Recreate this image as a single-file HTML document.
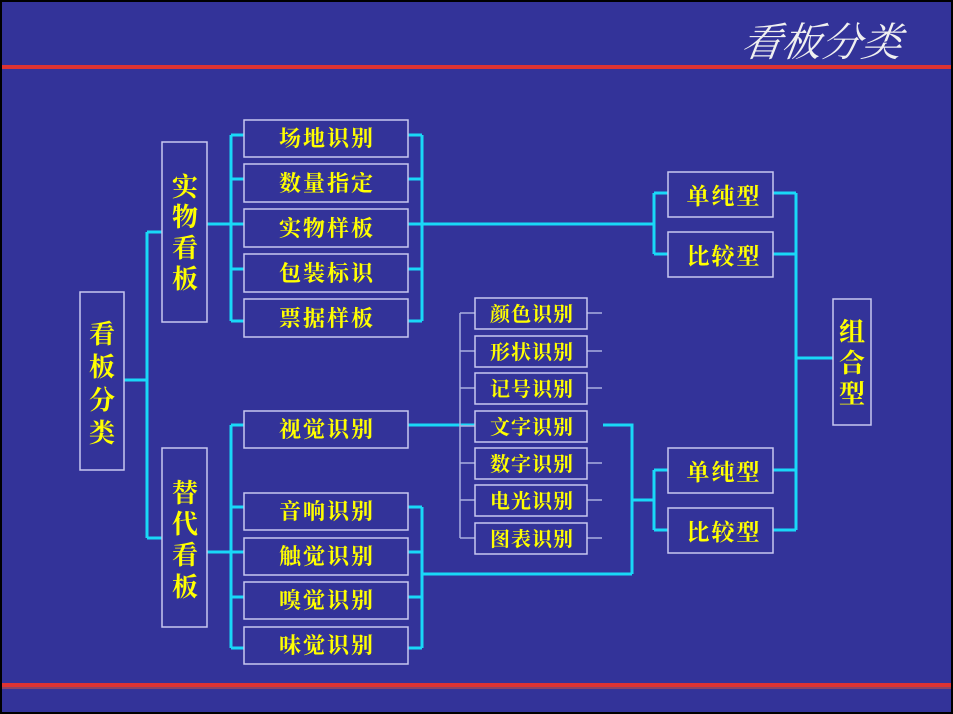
<!DOCTYPE html>
<html><head><meta charset="utf-8"><style>
html,body{margin:0;padding:0;background:#000;}
svg{display:block}
</style></head><body>
<svg width="953" height="714" viewBox="0 0 953 714" xmlns="http://www.w3.org/2000/svg">
<rect x="0" y="0" width="953" height="714" fill="#000"/>
<rect x="2" y="2" width="949" height="710" fill="#333399"/>
<text x="900" y="56" text-anchor="end" font-family="Liberation Serif, 'Noto Serif CJK SC', serif" font-size="40" font-style="italic" fill="#f0f0f0" transform="skewX(-8)" style="transform-origin:900px 56px">看板分类</text>
<rect x="2" y="65" width="949" height="4" fill="#dd3333"/>
<rect x="2" y="683" width="949" height="4" fill="#dd3333"/>
<rect x="2" y="687" width="949" height="2" fill="#884466"/>

<g stroke="#19d8f8" stroke-width="3" fill="none">
<path d="M124 380 H147 M147 232 V538 M147 232 H162 M147 538 H162"/>
<path d="M207 224 H231 M231 135 V321 M231 135 H244 M231 179 H244 M231 224 H244 M231 269 H244 M231 321 H244"/>
<path d="M408 135 H422 M408 179 H422 M408 224 H422 M408 269 H422 M408 321 H422 M422 135 V321 M422 224 H654"/>
<path d="M654 193 V254 M654 193 H669 M654 254 H669"/>
<path d="M207 552 H231 M231 425 V648 M231 425 H244 M231 507 H244 M231 552 H244 M231 597 H244 M231 648 H244"/>
<path d="M408 425 H475"/>
<path d="M408 507 H422 M408 552 H422 M408 597 H422 M408 648 H422 M422 507 V648 M422 574 H632"/>
<path d="M603 425 H632 V574 M632 500 H654 M654 470 V530 M654 470 H669 M654 530 H669"/>
<path d="M773 193 H796 M773 254 H796 M773 470 H796 M773 530 H796 M796 193 V530 M796 358 H833"/>
</g>
<g stroke="#aab0e0" stroke-width="1.5" fill="none">
<path d="M460 313 V538 M460 313 H475 M460 351 H475 M460 388 H475 M460 426 H475 M460 463 H475 M460 500 H475 M460 538 H475"/>
<path d="M587 313 H602 M587 351 H602 M587 388 H602 M587 463 H602 M587 500 H602 M587 538 H602"/>
</g>

<g stroke="#c8c8f0" stroke-width="1.5" fill="#333399">
<rect x="80" y="292" width="44" height="178"/>
<rect x="162" y="142" width="45" height="180"/>
<rect x="162" y="448" width="45" height="179"/>
<rect x="244" y="120" width="164" height="37"/>
<rect x="244" y="164" width="164" height="38"/>
<rect x="244" y="209" width="164" height="38"/>
<rect x="244" y="254" width="164" height="38"/>
<rect x="244" y="299" width="164" height="38"/>
<rect x="244" y="411" width="164" height="37"/>
<rect x="244" y="493" width="164" height="37"/>
<rect x="244" y="538" width="164" height="37"/>
<rect x="244" y="582" width="164" height="37"/>
<rect x="244" y="627" width="164" height="37"/>
<rect x="475" y="298" width="112" height="31"/>
<rect x="475" y="336" width="112" height="31"/>
<rect x="475" y="373" width="112" height="31"/>
<rect x="475" y="411" width="112" height="31"/>
<rect x="475" y="448" width="112" height="31"/>
<rect x="475" y="485" width="112" height="31"/>
<rect x="475" y="523" width="112" height="31"/>
<rect x="668" y="172" width="105" height="45"/>
<rect x="668" y="232" width="105" height="45"/>
<rect x="668" y="448" width="105" height="45"/>
<rect x="668" y="508" width="105" height="45"/>
<rect x="833" y="299" width="38" height="126"/>
</g>

<g font-family="Liberation Serif, 'Noto Serif CJK SC', serif" font-weight="bold" fill="#ffff00" text-anchor="middle">
<g font-size="26">
<text x="102" y="343">看</text><text x="102" y="376">板</text><text x="102" y="409">分</text><text x="102" y="442">类</text>
<text x="185" y="196">实</text><text x="185" y="226">物</text><text x="185" y="257">看</text><text x="185" y="288">板</text>
<text x="185" y="502">替</text><text x="185" y="533">代</text><text x="185" y="564">看</text><text x="185" y="596">板</text>
<text x="852" y="341">组</text><text x="852" y="372">合</text><text x="852" y="403">型</text>
</g>
<g font-size="22" letter-spacing="2">
<text x="327" y="146">场地识别</text>
<text x="327" y="191">数量指定</text>
<text x="327" y="236">实物样板</text>
<text x="327" y="281">包装标识</text>
<text x="327" y="326">票据样板</text>
<text x="327" y="437">视觉识别</text>
<text x="327" y="519">音响识别</text>
<text x="327" y="564">触觉识别</text>
<text x="327" y="608">嗅觉识别</text>
<text x="327" y="653">味觉识别</text>
</g>
<g font-size="20" letter-spacing="1">
<text x="532" y="321">颜色识别</text>
<text x="532" y="359">形状识别</text>
<text x="532" y="396">记号识别</text>
<text x="532" y="434">文字识别</text>
<text x="532" y="471">数字识别</text>
<text x="532" y="508">电光识别</text>
<text x="532" y="546">图表识别</text>
</g>
<g font-size="23" letter-spacing="2">
<text x="724" y="204">单纯型</text>
<text x="724" y="264">比较型</text>
<text x="724" y="480">单纯型</text>
<text x="724" y="540">比较型</text>
</g>
</g>
</svg>
</body></html>
